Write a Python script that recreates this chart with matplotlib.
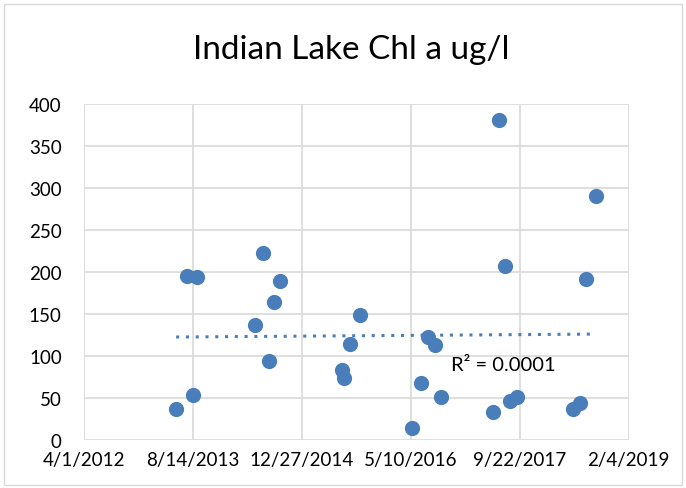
import matplotlib
matplotlib.use("Agg")
import matplotlib.pyplot as plt
import matplotlib.dates as mdates
import numpy as np
import datetime as dt
from matplotlib.patches import Rectangle

dates = ["2013-05-29", "2013-07-17", "2013-08-31", "2013-08-14", "2014-05-26",
         "2014-07-01", "2014-07-27", "2014-08-23", "2014-09-17", "2015-06-28",
         "2015-07-10", "2015-08-07", "2015-09-19", "2016-05-15", "2016-06-24",
         "2016-07-28", "2016-08-27", "2016-09-24", "2017-05-23", "2017-06-18",
         "2017-07-15", "2017-08-10", "2017-09-10", "2018-05-25", "2018-06-25",
         "2018-07-25", "2018-09-06"]
chl = [36, 195, 194, 53, 137, 222, 94, 164, 189, 83, 73, 114, 148,
       14, 68, 122, 113, 51, 33, 381, 207, 46, 51, 37, 44, 192, 290]
tick_dates = ["2012-04-01", "2013-08-14", "2014-12-27", "2016-05-10", "2017-09-22", "2019-02-04"]
tick_labels = ["4/1/2012", "8/14/2013", "12/27/2014", "5/10/2016", "9/22/2017", "2/4/2019"]
y_ticks = [0, 50, 100, 150, 200, 250, 300, 350, 400]

font = ["Lato", "DejaVu Sans"]
plt.rcParams['font.family'] = font

x = mdates.date2num([dt.datetime.strptime(d, "%Y-%m-%d") for d in dates])
xt = mdates.date2num([dt.datetime.strptime(d, "%Y-%m-%d") for d in tick_dates])
y = np.array(chl, dtype=float)

fig = plt.figure(figsize=(6.86, 4.89), dpi=100)
fig.patches.append(Rectangle((0.006, 0.006), 0.988, 0.984, transform=fig.transFigure,
                             fill=False, edgecolor="#D9D9D9", linewidth=1))
ax = fig.add_axes([0.1224, 0.0988, 0.7941, 0.6865])

ax.scatter(x, y, s=120, color="#4A7EBB", zorder=3, linewidths=0)

coef = np.polyfit(x, y, 1)
xs = np.array([x.min(), x.max()])
ax.plot(xs, np.polyval(coef, xs), linestyle=(0, (1, 2.2)), color="#4A7EBB",
        linewidth=2.2, zorder=2)
ax.text(mdates.date2num(dt.datetime(2016, 11, 10)), 90, "R² = 0.0001", fontsize=14.5,
        ha="left", va="center", color="#000000")

ax.set_xlim(xt[0], xt[-1])
ax.set_ylim(0, 400)
ax.set_xticks(xt)
ax.set_xticklabels(tick_labels)
ax.set_yticks(y_ticks)
ax.grid(True, color="#D9D9D9", linewidth=1.2, zorder=0)
ax.set_axisbelow(True)
for s in ax.spines.values():
    s.set_visible(False)
ax.tick_params(axis="both", length=0, labelsize=13.5, colors="#000000")
ax.tick_params(axis="x", pad=8)
ax.tick_params(axis="y", pad=16)
for lbl in ax.get_yticklabels():
    lbl.set_horizontalalignment("right")

fig.text(0.512, 0.897, "Indian Lake Chl a ug/l", ha="center", va="center", fontsize=24)

fig.savefig("out.png", dpi=100)
